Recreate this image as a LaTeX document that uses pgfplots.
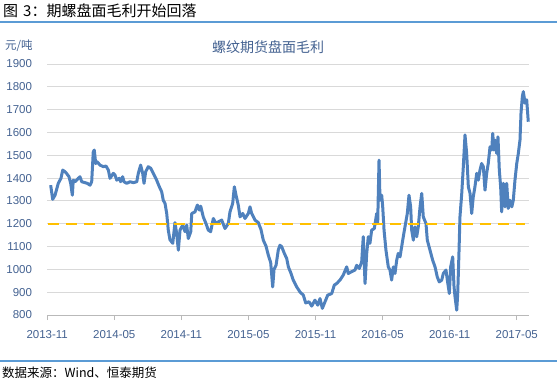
\documentclass[border=0pt]{standalone}
\usepackage{fontspec}
\setmainfont{Liberation Sans}
\newfontfamily\cjk{Noto Sans CJK SC}
\usepackage{pgfplots}
\pgfplotsset{compat=1.18}
\definecolor{lineblue}{RGB}{79,129,189}
\definecolor{gold}{RGB}{255,192,0}
\definecolor{labblue}{RGB}{68,98,145}
\definecolor{gridgray}{RGB}{217,217,217}
\definecolor{hdrblue}{RGB}{91,155,213}
\begin{document}
\begin{tikzpicture}
\useasboundingbox (0pt,0pt) rectangle (557pt,378pt);
\draw[hdrblue, line width=2pt] (0pt,356pt) -- (557pt,356pt);
\node[anchor=west, inner sep=0pt, font=\cjk\fontsize{15}{15}\selectfont] at (3pt,367pt) {图\hspace{5pt}3：期螺盘面毛利开始回落};
\node[anchor=west, inner sep=0pt, text=labblue, font=\cjk\fontsize{11.5}{12}\selectfont] at (5pt,332pt) {元/吨};
\node[inner sep=0pt, text=labblue, font=\cjk\fontsize{14}{14}\selectfont] at (268pt,331pt) {螺纹期货盘面毛利};
\draw[hdrblue, line width=1.6pt] (0pt,17pt) -- (557pt,17pt);
\node[anchor=west, inner sep=0pt, font=\cjk\fontsize{12.5}{13}\selectfont] at (2pt,5pt) {数据来源：Wind、恒泰期货};
\begin{axis}[
  at={(47.2pt,63pt)}, anchor=south west,
  width=481.4pt, height=251pt, scale only axis,
  xmin=0, xmax=43.06, ymin=800, ymax=1900,
  axis lines*=left,
  y axis line style={draw=none},
  x axis line style={draw=gray!55, line width=1pt},
  xtick={0,6,12,18,24,30,36,42},
  xticklabels={2013-11,2014-05,2014-11,2015-05,2015-11,2016-05,2016-11,2017-05},
  ytick={800,900,...,1900},
  ymajorgrids, grid style={gridgray, line width=0.9pt},
  ytick style={draw=none},
  xtick style={draw=gray!55, line width=1pt},
  xtick align=outside, major tick length=5pt,
  /pgf/number format/1000 sep={},
  /pgf/number format/assume math mode=true,
  ticklabel style={text=labblue, font=\fontsize{11.5}{12}\selectfont},
  yticklabel style={anchor=east, inner sep=0pt, xshift=-15pt},
  xticklabel style={anchor=north, inner sep=0pt, yshift=-10pt},
  clip=false,
]
\addplot[lineblue, line width=3pt, line join=round] coordinates {
(0.31,1369) (0.49,1307) (0.70,1325) (0.99,1377) (1.23,1399) (1.39,1435) (1.59,1428) (1.74,1420) (1.95,1406) (2.10,1377) (2.25,1325) (2.33,1391) (2.49,1384) (2.78,1399) (2.93,1406) (3.09,1384) (3.38,1380) (3.59,1377) (3.83,1369) (3.98,1384) (4.12,1515) (4.21,1523) (4.34,1464) (4.48,1471) (4.72,1457) (5.02,1450) (5.26,1453) (5.47,1435) (5.62,1399) (5.91,1421) (6.06,1414) (6.22,1391) (6.45,1399) (6.57,1384) (6.75,1406) (6.87,1384) (7.11,1377) (7.41,1384) (7.70,1380) (8.01,1384) (8.15,1421) (8.36,1457) (8.54,1421) (8.66,1377) (8.81,1428) (9.04,1450) (9.26,1443) (9.49,1421) (9.79,1391) (10.03,1362) (10.24,1340) (10.38,1303) (10.54,1289) (10.69,1245) (10.83,1172) (10.98,1130) (11.23,1114) (11.43,1205) (11.58,1157) (11.73,1084) (11.88,1172) (12.12,1194) (12.33,1165) (12.48,1194) (12.62,1135) (12.84,1165) (12.93,1245) (13.22,1252) (13.43,1282) (13.60,1260) (13.73,1277) (13.96,1230) (14.20,1201) (14.41,1172) (14.62,1165) (14.86,1223) (15.10,1201) (15.30,1208) (15.61,1216) (15.90,1179) (16.20,1201) (16.35,1252) (16.59,1289) (16.74,1362) (16.89,1325) (17.09,1282) (17.25,1230) (17.49,1245) (17.69,1223) (17.99,1245) (18.14,1274) (18.29,1245) (18.59,1216) (18.88,1205) (19.12,1175) (19.33,1128) (19.57,1102) (19.78,1062) (19.99,1030) (20.17,923) (20.29,1000) (20.47,1018) (20.67,1085) (20.82,1106) (20.98,1099) (21.21,1070) (21.42,1048) (21.57,1011) (21.81,982) (22.01,953) (22.32,923) (22.61,901) (22.91,887) (23.12,853) (23.42,858) (23.66,839) (23.95,865) (24.20,843) (24.40,872) (24.61,829) (24.85,858) (25.09,887) (25.45,894) (25.68,931) (25.89,938) (26.19,953) (26.48,975) (26.79,1011) (26.93,982) (27.24,990) (27.53,997) (27.68,1018) (27.92,1004) (28.13,1033) (28.27,1143) (28.43,938) (28.58,1070) (28.72,1143) (28.87,1114) (29.02,1172) (29.26,1179) (29.47,1245) (29.56,1201) (29.68,1479) (29.77,1303) (29.92,1325) (30.01,1274) (30.13,1172) (30.30,1084) (30.51,1011) (30.66,997) (30.81,953) (30.96,1011) (31.11,982) (31.26,1040) (31.40,1070) (31.56,1055) (31.80,1128) (32.00,1186) (32.21,1245) (32.36,1325) (32.51,1274) (32.60,1172) (32.75,1128) (32.90,1186) (33.05,1143) (33.19,1186) (33.35,1274) (33.50,1333) (33.64,1230) (33.88,1201) (34.00,1128) (34.24,1084) (34.48,1040) (34.69,1011) (34.89,967) (35.07,945) (35.29,953) (35.43,982) (35.67,997) (35.79,953) (35.97,894) (36.09,1011) (36.27,1055) (36.39,923) (36.48,879) (36.63,821) (36.72,894) (36.83,1070) (36.92,1230) (37.08,1333) (37.22,1450) (37.37,1589) (37.52,1508) (37.67,1362) (37.82,1333) (37.97,1245) (38.11,1318) (38.26,1362) (38.42,1421) (38.56,1391) (38.71,1435) (38.86,1464) (39.01,1450) (39.16,1347) (39.31,1421) (39.45,1464) (39.61,1537) (39.76,1523) (39.85,1596) (39.96,1523) (40.08,1566) (40.21,1508) (40.32,1581) (40.44,1435) (40.56,1362) (40.65,1252) (40.80,1377) (40.95,1274) (41.10,1377) (41.24,1267) (41.39,1303) (41.56,1274) (41.69,1303) (41.84,1391) (42.00,1464) (42.14,1508) (42.29,1567) (42.38,1684) (42.50,1757) (42.59,1779) (42.74,1728) (42.89,1743) (43.03,1647)
};
\addplot[gold, line width=2.4pt, dash pattern=on 11pt off 7pt] coordinates {(0.05,1200) (42.75,1200)};
\end{axis}
\end{tikzpicture}
\end{document}
